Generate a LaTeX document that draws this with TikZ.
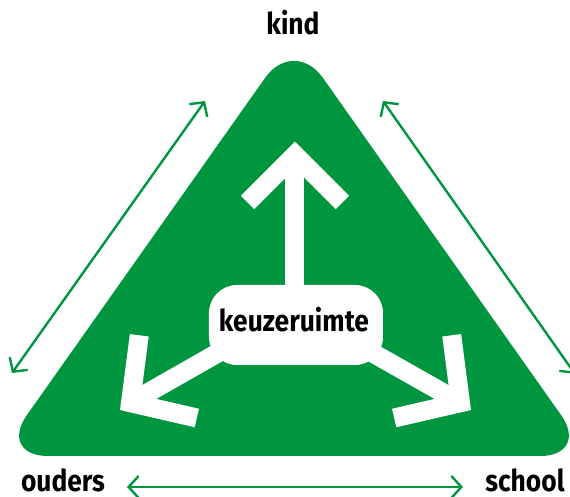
\documentclass[tikz,border=0pt]{standalone}
\usepackage{fontspec}
\newfontfamily\keuzefont[FakeStretch=0.88]{Fira Sans}
\usetikzlibrary{arrows.meta}
\definecolor{kgreen}{RGB}{0,150,64}

\begin{document}
\begin{tikzpicture}[x=0.5pt,y=-0.5pt,
					word/.style={font=\keuzefont\bfseries\fontsize{15pt}{17pt}\selectfont, text=black, anchor=base, inner sep=0},
					keuzebox/.style={fill=white, rounded corners=14pt, minimum width=87pt, minimum height=40pt, inner sep=0},
					whitearrow/.style={draw=white, line width=9.5pt, line join=miter},
					sidearrow/.style={draw=kgreen, line width=1.2pt, {Straight Barb[length=5pt,width=11pt]}-{Straight Barb[length=5pt,width=11pt]}}
					]
	\useasboundingbox (0,0) rectangle (570,497);
	\clip (0,0) rectangle (570,497);

	%triangle-----------------------------------------------
	\fill[kgreen, rounded corners=25pt] (294,37) -- (590,456) -- (-2,456) -- cycle; %green triangle

	%white arrows-------------------------------------------
	\coordinate (mid) at (295,309); %meeting point of the shafts
	\coordinate (upTip) at (295,155); %kind arrow
	\coordinate (upL) at (247.6,202.4);
	\coordinate (upR) at (342.4,202.4);
	\coordinate (leftTip) at (130.5,402.7); %ouders arrow
	\coordinate (leftA) at (139.3,335.3);
	\coordinate (leftB) at (196.8,418);
	\coordinate (rightTip) at (460.5,402.7); %school arrow
	\coordinate (rightA) at (451.7,335.3);
	\coordinate (rightB) at (394.2,418);

	\draw[whitearrow] (mid) -- (upTip);
	\draw[whitearrow] (upL) -- (upTip) -- (upR);
	\draw[whitearrow] (mid) -- (leftTip);
	\draw[whitearrow] (leftA) -- (leftTip) -- (leftB);
	\draw[whitearrow] (mid) -- (rightTip);
	\draw[whitearrow] (rightA) -- (rightTip) -- (rightB);

	%centre box
	\node[keuzebox] (keuze) at (296,325) {};
	\node[word] (keuzeText) at (294,332) {keuzeruimte}; %box text

	%corner words-------------------------------------------
	\node[word] (kind) at (293,35) {kind}; %top
	\node[word] (ouders) at (63,492) {ouders}; %bottom left
	\node[word] (school) at (525,492) {school}; %bottom right

	%green arrows along the sides----------------------------
	\coordinate (leftTop) at (205,101);
	\coordinate (leftBot) at (12,373);
	\coordinate (rightTop) at (383,101);
	\coordinate (rightBot) at (575,374);
	\coordinate (baseL) at (127,487);
	\coordinate (baseR) at (463,487);
	\draw[sidearrow] (leftBot) -- (leftTop); %ouders - kind
	\draw[sidearrow] (rightTop) -- (rightBot); %kind - school
	\draw[sidearrow] (baseL) -- (baseR); %ouders - school
\end{tikzpicture}
\end{document}
